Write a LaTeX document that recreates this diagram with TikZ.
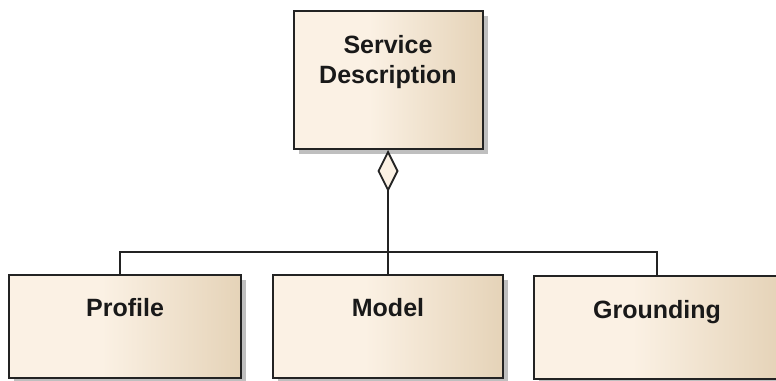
\documentclass[tikz,border=0pt]{standalone}
\usepackage{fontspec}
\setmainfont{Liberation Sans}
\usepackage{tikz}
\usetikzlibrary{arrows.meta}
\usetikzlibrary{positioning}
\usetikzlibrary{shadows}
\definecolor{classlight}{RGB}{251,241,228}
\definecolor{classdark}{RGB}{229,211,184}
\definecolor{classline}{RGB}{35,35,35}
\pgfdeclarehorizontalshading{classfill}{100bp}{color(0bp)=(classlight); color(45bp)=(classlight); color(75bp)=(classdark); color(100bp)=(classdark)}

\begin{document}
\begin{tikzpicture}[x=1pt,y=1pt,
  class/.style={draw=classline,line width=2pt,shade,shading=classfill,
    drop shadow={shadow xshift=5pt,shadow yshift=-5pt,fill=black!25,opacity=1},
    minimum height=103pt,inner sep=0pt},
  classname/.style={inner sep=0pt,font=\fontsize{25}{30}\selectfont\bfseries,text=black!90,align=center},
  link/.style={draw=classline,line width=1.8pt}]
\useasboundingbox (0,0) rectangle (776,380);
\node (model) [class,minimum width=230pt] at (388,53.5) {};
\node (profile) [class,minimum width=232pt,left=30pt of model] {};
\node (grounding) [class,minimum width=246pt,minimum height=102pt,right=29pt of model,yshift=-1pt] {};
\node (sd) [class,minimum width=189pt,minimum height=138pt,above=124pt of model] {};
\node (sdname) [classname,below=25pt of sd.north] {Service\\Description};
\node (profilename) [classname,below=24pt of profile.north] {Profile};
\node (modelname) [classname,below=24pt of model.north] {Model};
\node (groundingname) [classname,below=25pt of grounding.north] {Grounding};
\coordinate [above=22pt of model.north] (bus);
\draw[link,-{Diamond[fill=classlight,length=42pt,width=21pt]}] (model.north) -- (sd.south);
\draw[link] ([xshift=-5pt]profile.north) |- (bus) -| (grounding.north);
\end{tikzpicture}
\end{document}
